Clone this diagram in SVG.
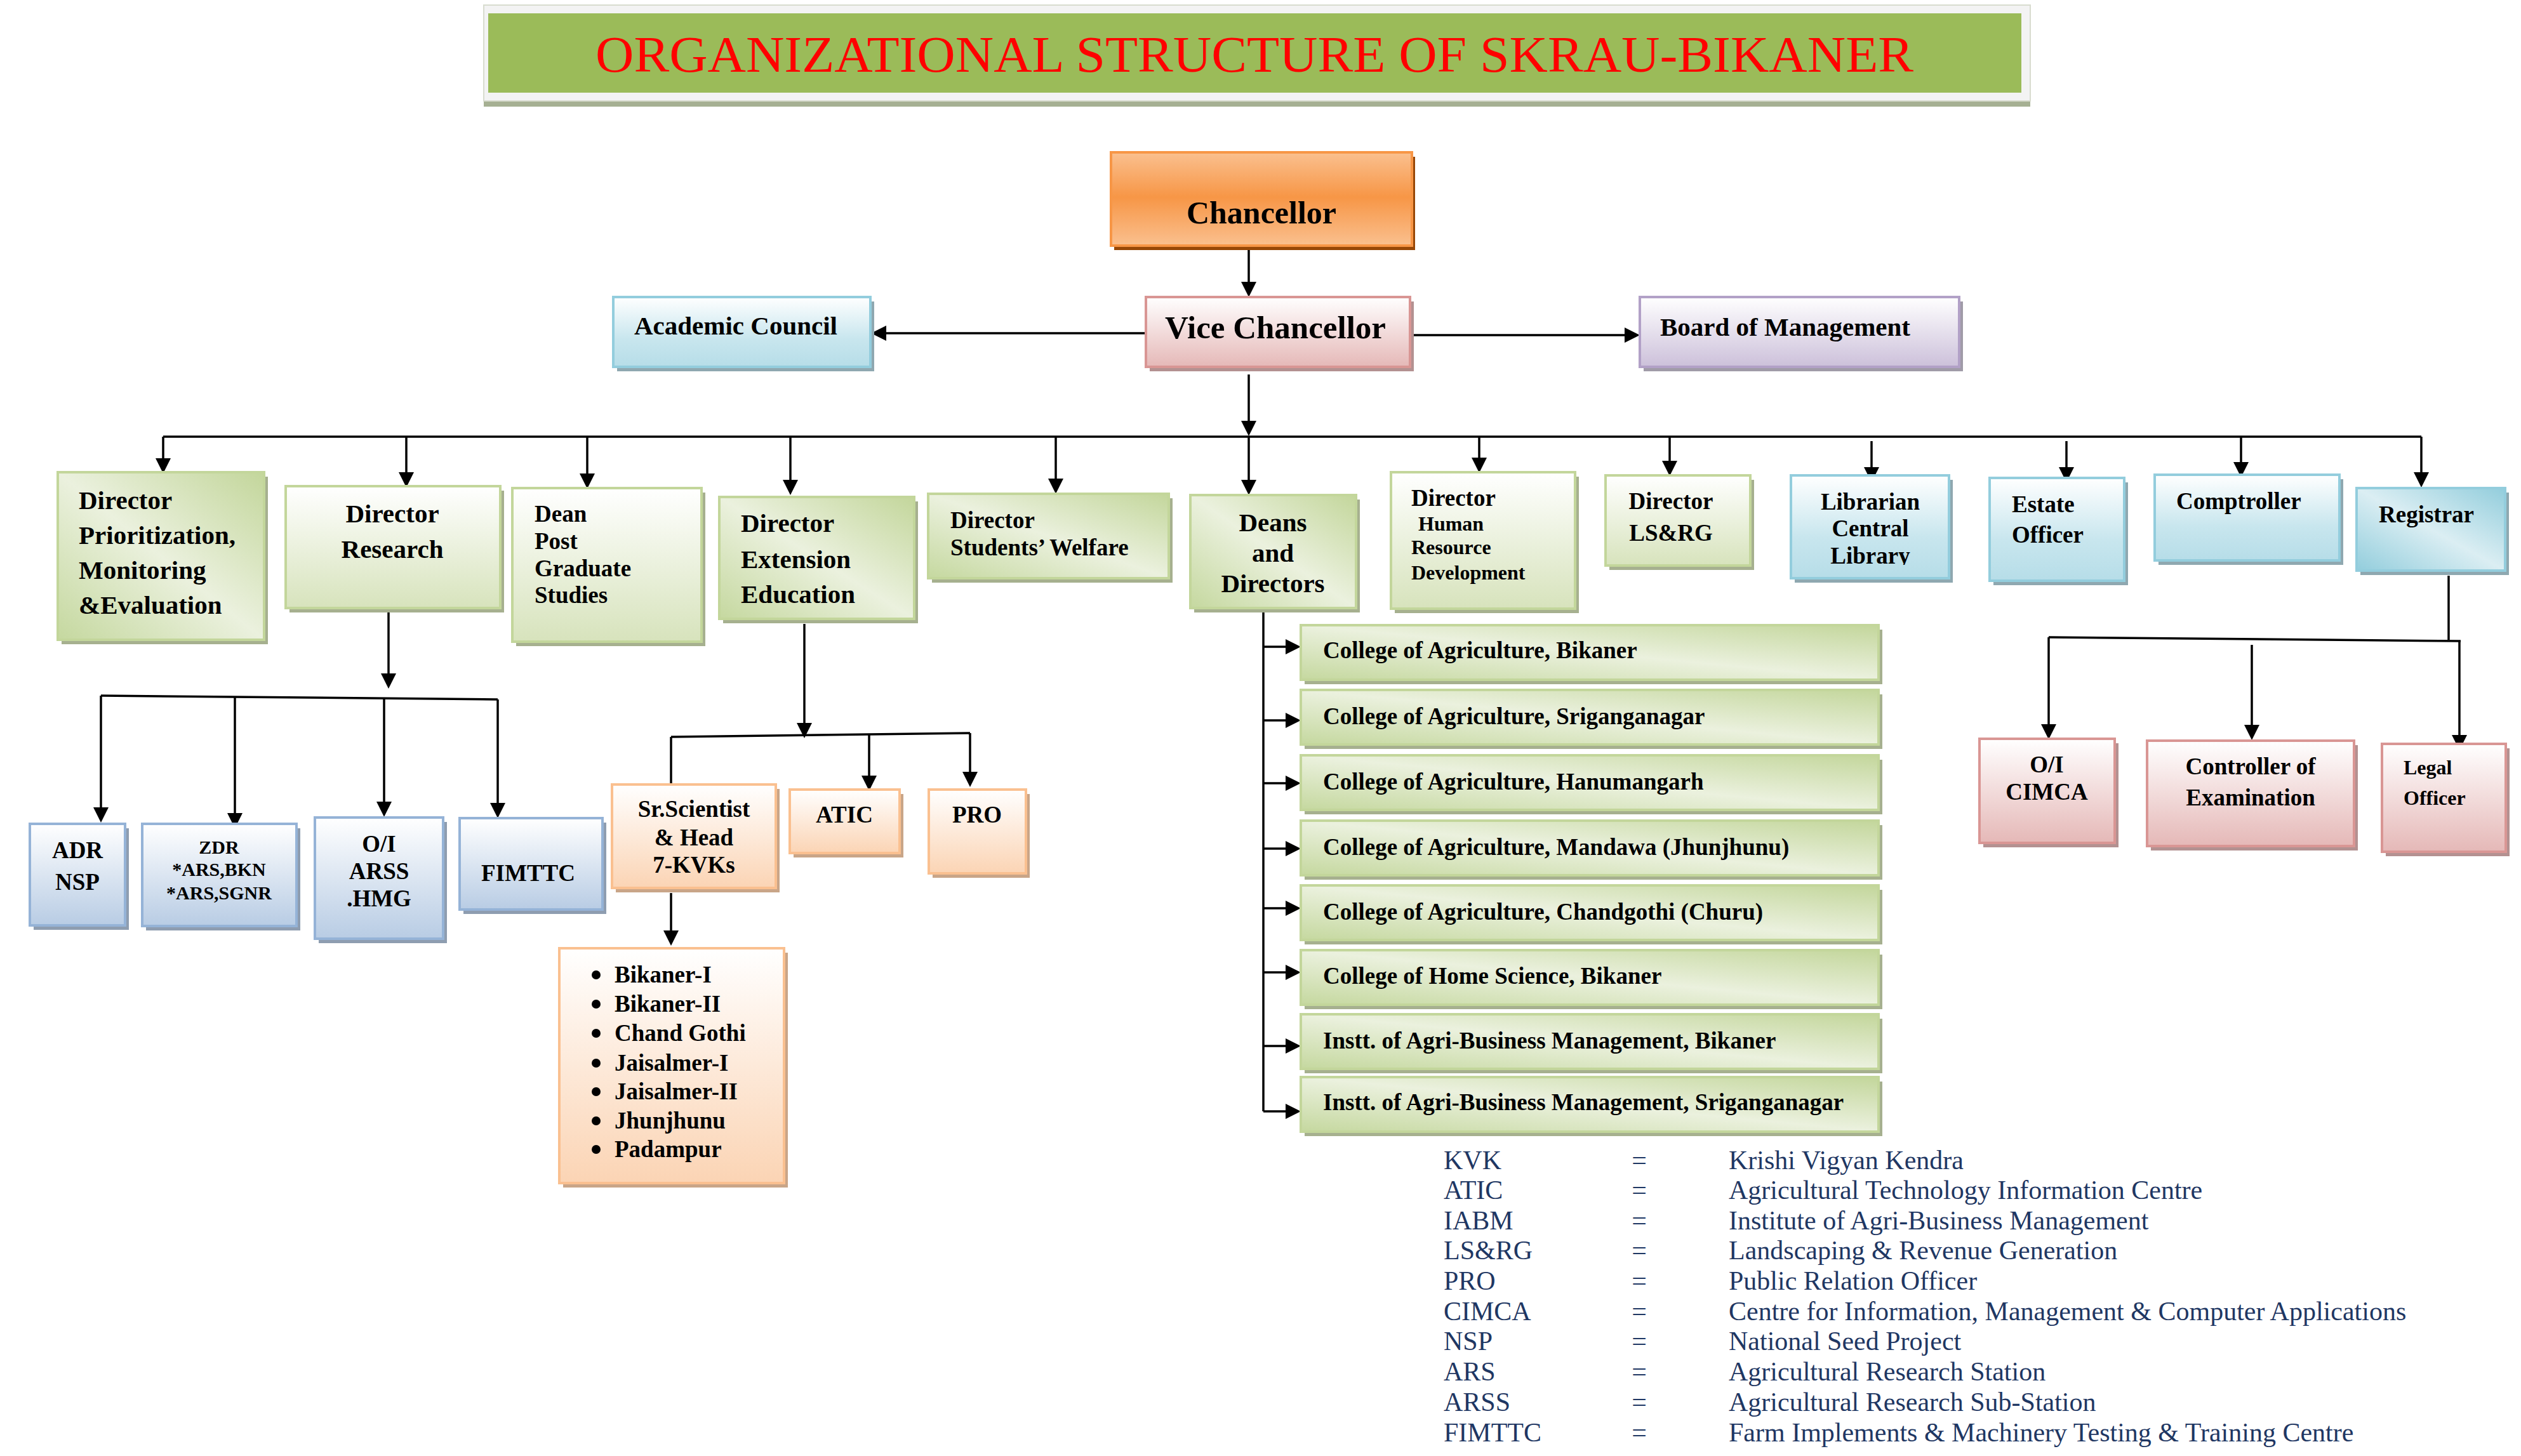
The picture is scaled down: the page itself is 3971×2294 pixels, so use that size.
<svg xmlns="http://www.w3.org/2000/svg" width="3971" height="2294" viewBox="0 0 3971 2294">
<defs>
<style>
.t{font-family:"Liberation Serif","Times New Roman",serif;font-weight:bold;fill:#000}
.f30{font-size:30px}.f32{font-size:32px}.f37{font-size:37px}.f40{font-size:40px}.f41{font-size:41px}
.c{text-anchor:middle}
.ln{stroke:#000;stroke-width:3.5;fill:none}
.la{stroke:#000;stroke-width:3.5;fill:none;marker-end:url(#ah)}
.lg{font-family:"Liberation Serif","Times New Roman",serif;font-size:42px;fill:#1f3763}
.bg{stroke:#c3d69b;stroke-width:4}
.bb{stroke:#93cddd;stroke-width:4}
.bs{stroke:#95b3d7;stroke-width:4}
.bo{stroke:#fac090;stroke-width:4}
.bp{stroke:#d99694;stroke-width:4}
.sg{fill:#a6b08f}.sb{fill:#8fa8b0}.ss{fill:#8e9db0}.so{fill:#c9a588}.sp{fill:#b39191}
</style>
<marker id="ah" markerUnits="userSpaceOnUse" markerWidth="24" markerHeight="24" viewBox="0 0 24 24" refX="20" refY="12" orient="auto">
<path d="M0,0 L24,12 L0,24 z" fill="#000"/>
</marker>
<linearGradient id="gChan" x1="0" y1="0" x2="0" y2="1"><stop offset="0" stop-color="#fac08f"/><stop offset="0.48" stop-color="#f79646"/><stop offset="1" stop-color="#fac08f"/></linearGradient>
<linearGradient id="gPink" x1="0" y1="0" x2="0" y2="1"><stop offset="0" stop-color="#ffffff"/><stop offset="1" stop-color="#e5b8b7"/></linearGradient>
<linearGradient id="gBlue" x1="0" y1="0" x2="0" y2="1"><stop offset="0" stop-color="#ffffff"/><stop offset="0.6" stop-color="#c8e6ee"/><stop offset="1" stop-color="#b6dde8"/></linearGradient>
<linearGradient id="gPurple" x1="0" y1="0" x2="0" y2="1"><stop offset="0" stop-color="#ffffff"/><stop offset="1" stop-color="#ccc0da"/></linearGradient>
<linearGradient id="gGreenV" x1="0" y1="0" x2="0" y2="1"><stop offset="0" stop-color="#ffffff"/><stop offset="1" stop-color="#d7e3bc"/></linearGradient>
<linearGradient id="gSteel" x1="0" y1="0" x2="0" y2="1"><stop offset="0" stop-color="#ffffff"/><stop offset="1" stop-color="#b8cce4"/></linearGradient>
<linearGradient id="gOrange" x1="0" y1="0" x2="0" y2="1"><stop offset="0" stop-color="#ffffff"/><stop offset="1" stop-color="#fbd4b4"/></linearGradient>
<linearGradient id="gGreenD" x1="1" y1="0" x2="0" y2="1"><stop offset="0" stop-color="#c3d69b"/><stop offset="0.5" stop-color="#ebf1de"/><stop offset="1" stop-color="#c5d89f"/></linearGradient>
<linearGradient id="gBlueD" x1="1" y1="0" x2="0" y2="1"><stop offset="0" stop-color="#92cddc"/><stop offset="0.5" stop-color="#dbeef3"/><stop offset="1" stop-color="#92cddc"/></linearGradient>
<clipPath id="clipLib"><rect x="2815" y="740" width="260" height="150"/></clipPath>
</defs>
<rect x="0" y="0" width="3971" height="2294" fill="#ffffff"/>

<g id="title">
<rect x="762" y="159" width="2436" height="9" fill="#a6b093"/>
<rect x="762" y="8" width="2436" height="151" fill="#f3f3f3" stroke="#d8dccf" stroke-width="2"/>
<rect x="769" y="21" width="2415" height="125" fill="#9bbb59"/>
<text x="1976" y="113" font-family="Liberation Serif, Times New Roman, serif" font-size="81" fill="#ff0000" text-anchor="middle" textLength="2076" lengthAdjust="spacingAndGlyphs">ORGANIZATIONAL STRUCTURE OF SKRAU-BIKANER</text>
</g>

<g id="connectors">
<line class="la" x1="1967" y1="394" x2="1967" y2="464"/>
<line class="la" x1="1805" y1="525" x2="1376" y2="525"/>
<line class="la" x1="2223" y1="528" x2="2579" y2="528"/>
<line class="la" x1="1967" y1="590" x2="1967" y2="683"/>
<line class="ln" x1="257" y1="688" x2="3814" y2="688" stroke-width="4"/>
<line class="la" x1="257" y1="688" x2="257" y2="742"/>
<line class="la" x1="640" y1="688" x2="640" y2="764"/>
<line class="la" x1="925" y1="688" x2="925" y2="766"/>
<line class="la" x1="1245" y1="688" x2="1245" y2="776"/>
<line class="la" x1="1663" y1="688" x2="1663" y2="774"/>
<line class="la" x1="1967" y1="688" x2="1967" y2="776"/>
<line class="la" x1="2330" y1="688" x2="2330" y2="741"/>
<line class="la" x1="2630" y1="688" x2="2630" y2="746"/>
<line class="la" x1="2948" y1="695" x2="2948" y2="756"/>
<line class="la" x1="3255" y1="695" x2="3255" y2="756"/>
<line class="la" x1="3530" y1="688" x2="3530" y2="748"/>
<line class="la" x1="3814" y1="688" x2="3814" y2="764"/>

<line class="la" x1="612" y1="964" x2="612" y2="1081"/>
<line class="ln" x1="159" y1="1096" x2="784" y2="1102"/>
<line class="la" x1="159" y1="1096" x2="159" y2="1292"/>
<line class="la" x1="370" y1="1098" x2="370" y2="1301"/>
<line class="la" x1="605" y1="1100" x2="605" y2="1283"/>
<line class="la" x1="784" y1="1102" x2="784" y2="1285"/>

<line class="la" x1="1267" y1="983" x2="1267" y2="1159"/>
<line class="ln" x1="1057" y1="1161" x2="1528" y2="1155"/>
<line class="ln" x1="1057" y1="1161" x2="1057" y2="1236"/>
<line class="la" x1="1369" y1="1158" x2="1369" y2="1242"/>
<line class="la" x1="1528" y1="1155" x2="1528" y2="1236"/>
<line class="la" x1="1057" y1="1407" x2="1057" y2="1486"/>

<line class="ln" x1="1990" y1="965" x2="1990" y2="1751"/>
<line class="la" x1="1990" y1="1019" x2="2045" y2="1019"/>
<line class="la" x1="1990" y1="1135" x2="2045" y2="1135"/>
<line class="la" x1="1990" y1="1234" x2="2045" y2="1234"/>
<line class="la" x1="1990" y1="1337" x2="2045" y2="1337"/>
<line class="la" x1="1990" y1="1431" x2="2045" y2="1431"/>
<line class="la" x1="1990" y1="1532" x2="2045" y2="1532"/>
<line class="la" x1="1990" y1="1648" x2="2045" y2="1648"/>
<line class="la" x1="1990" y1="1751" x2="2045" y2="1751"/>

<line class="ln" x1="3857" y1="907" x2="3857" y2="1008"/>
<line class="ln" x1="3227" y1="1004" x2="3876" y2="1010"/>
<line class="la" x1="3227" y1="1004" x2="3227" y2="1161"/>
<line class="la" x1="3547" y1="1016" x2="3547" y2="1162"/>
<line class="la" x1="3874" y1="1010" x2="3874" y2="1178"/>
</g>

<g id="chancellor">
<rect x="1755" y="247" width="474" height="147" fill="#984807"/>
<rect x="1750" y="240" width="474" height="147" fill="url(#gChan)" stroke="#f79646" stroke-width="4"/>
<text class="t c" x="1987" y="352" font-size="50">Chancellor</text>
</g>
<g id="vice-chancellor">
<rect x="1811" y="475" width="416" height="110" class="sp"/>
<rect x="1805" y="468" width="416" height="110" fill="url(#gPink)" class="bp"/>
<text class="t c" x="2009" y="533" font-size="51">Vice Chancellor</text>
</g>
<g id="academic-council">
<rect x="972" y="475" width="405" height="110" class="sb"/>
<rect x="966" y="468" width="405" height="110" fill="url(#gBlue)" class="bb"/>
<text class="t f41" x="999" y="527">Academic Council</text>
</g>
<g id="board-of-management">
<rect x="2589" y="475" width="503" height="110" fill="#a09ba8"/>
<rect x="2583" y="468" width="503" height="110" fill="url(#gPurple)" stroke="#b2a1c7" stroke-width="4"/>
<text class="t f41" x="2615" y="529">Board of Management</text>
</g>

<g id="dir-pme">
<rect x="97" y="751" width="325" height="264" class="sg"/>
<rect x="91" y="744" width="325" height="264" fill="url(#gGreenD)" class="bg"/>
<text class="t f41" x="124" y="802">Director</text>
<text class="t f41" x="124" y="857">Prioritization,</text>
<text class="t f41" x="124" y="912">Monitoring</text>
<text class="t f41" x="124" y="967">&amp;Evaluation</text>
</g>
<g id="dir-research">
<rect x="456" y="773" width="338" height="192" class="sg"/>
<rect x="450" y="766" width="338" height="192" fill="url(#gGreenV)" class="bg"/>
<text class="t f41 c" x="618" y="823">Director</text>
<text class="t f41 c" x="618" y="879">Research</text>
</g>
<g id="dean-pgs">
<rect x="813" y="776" width="298" height="242" class="sg"/>
<rect x="807" y="769" width="298" height="242" fill="url(#gGreenV)" class="bg"/>
<text class="t f37" x="842" y="822">Dean</text>
<text class="t f37" x="842" y="865">Post</text>
<text class="t f37" x="842" y="908">Graduate</text>
<text class="t f37" x="842" y="950">Studies</text>
</g>
<g id="dir-extension">
<rect x="1139" y="790" width="307" height="192" class="sg"/>
<rect x="1133" y="783" width="307" height="192" fill="url(#gGreenD)" class="bg"/>
<text class="t f41" x="1167" y="838">Director</text>
<text class="t f41" x="1167" y="895">Extension</text>
<text class="t f41" x="1167" y="950">Education</text>
</g>
<g id="dir-students-welfare">
<rect x="1468" y="785" width="379" height="133" class="sg"/>
<rect x="1462" y="778" width="379" height="133" fill="url(#gGreenD)" class="bg"/>
<text class="t f37" x="1497" y="832">Director</text>
<text class="t f37" x="1497" y="875">Students’ Welfare</text>
</g>
<g id="deans-directors">
<rect x="1881" y="787" width="261" height="178" class="sg"/>
<rect x="1875" y="780" width="261" height="178" fill="url(#gGreenD)" class="bg"/>
<text class="t f41 c" x="2005" y="837">Deans</text>
<text class="t f41 c" x="2005" y="885">and</text>
<text class="t f41 c" x="2005" y="933">Directors</text>
</g>
<g id="dir-hrd">
<rect x="2197" y="751" width="290" height="215" class="sg"/>
<rect x="2191" y="744" width="290" height="215" fill="url(#gGreenV)" class="bg"/>
<text class="t f37" x="2223" y="797">Director</text>
<text class="t f32" x="2234" y="836">Human</text>
<text class="t f32" x="2223" y="873">Resource</text>
<text class="t f32" x="2223" y="913">Development</text>
</g>
<g id="dir-lsrg">
<rect x="2535" y="756" width="228" height="142" class="sg"/>
<rect x="2529" y="749" width="228" height="142" fill="url(#gGreenV)" class="bg"/>
<text class="t f37 c" x="2632" y="802">Director</text>
<text class="t f37 c" x="2632" y="852">LS&amp;RG</text>
</g>
<g id="librarian">
<rect x="2827" y="756" width="249" height="162" class="sb"/>
<rect x="2821" y="749" width="249" height="162" fill="url(#gBlue)" class="bb"/>
<text class="t f37 c" x="2946" y="803">Librarian</text>
<text class="t f37 c" x="2946" y="845">Central</text>
<text class="t f37 c" x="2946" y="888" clip-path="url(#clipLib)">Library</text>
</g>
<g id="estate-officer">
<rect x="3140" y="760" width="212" height="162" class="sb"/>
<rect x="3134" y="753" width="212" height="162" fill="url(#gBlue)" class="bb"/>
<text class="t f37" x="3169" y="807">Estate</text>
<text class="t f37" x="3169" y="855">Officer</text>
</g>
<g id="comptroller">
<rect x="3400" y="755" width="291" height="135" class="sb"/>
<rect x="3394" y="748" width="291" height="135" fill="url(#gBlue)" class="bb"/>
<text class="t f37" x="3428" y="802">Comptroller</text>
</g>
<g id="registrar">
<rect x="3718" y="776" width="234" height="130" class="sb"/>
<rect x="3712" y="769" width="234" height="130" fill="url(#gBlueD)" class="bb"/>
<text class="t f37" x="3747" y="823">Registrar</text>
</g>

<g id="adr-nsp">
<rect x="53" y="1305" width="150" height="160" class="ss"/>
<rect x="47" y="1298" width="150" height="160" fill="url(#gSteel)" class="bs"/>
<text class="t f37 c" x="122" y="1352">ADR</text>
<text class="t f37 c" x="122" y="1402">NSP</text>
</g>
<g id="zdr">
<rect x="230" y="1305" width="243" height="161" class="ss"/>
<rect x="224" y="1298" width="243" height="161" fill="url(#gSteel)" class="bs"/>
<text class="t f30 c" x="345" y="1345">ZDR</text>
<text class="t f30 c" x="345" y="1380">*ARS,BKN</text>
<text class="t f30 c" x="345" y="1417">*ARS,SGNR</text>
</g>
<g id="oi-arss">
<rect x="502" y="1295" width="202" height="191" class="ss"/>
<rect x="496" y="1288" width="202" height="191" fill="url(#gSteel)" class="bs"/>
<text class="t f37 c" x="597" y="1342">O/I</text>
<text class="t f37 c" x="597" y="1385">ARSS</text>
<text class="t f37 c" x="597" y="1428">.HMG</text>
</g>
<g id="fimttc">
<rect x="730" y="1296" width="225" height="144" class="ss"/>
<rect x="724" y="1289" width="225" height="144" fill="url(#gSteel)" class="bs"/>
<text class="t f37 c" x="832" y="1388">FIMTTC</text>
</g>

<g id="sr-scientist">
<rect x="970" y="1243" width="258" height="163" class="so"/>
<rect x="964" y="1236" width="258" height="163" fill="url(#gOrange)" class="bo"/>
<text class="t f37 c" x="1093" y="1287">Sr.Scientist</text>
<text class="t f37 c" x="1093" y="1332">&amp; Head</text>
<text class="t f37 c" x="1093" y="1375">7-KVKs</text>
</g>
<g id="atic">
<rect x="1250" y="1251" width="173" height="100" class="so"/>
<rect x="1244" y="1244" width="173" height="100" fill="url(#gOrange)" class="bo"/>
<text class="t f37 c" x="1330" y="1296">ATIC</text>
</g>
<g id="pro">
<rect x="1469" y="1251" width="153" height="132" class="so"/>
<rect x="1463" y="1244" width="153" height="132" fill="url(#gOrange)" class="bo"/>
<text class="t f37 c" x="1539" y="1296">PRO</text>
</g>
<g id="kvk-list">
<rect x="887" y="1501" width="354" height="370" class="so"/>
<rect x="881" y="1494" width="354" height="370" fill="url(#gOrange)" class="bo"/>
<g fill="#000">
<circle cx="939" cy="1536" r="7"/><circle cx="939" cy="1582" r="7"/><circle cx="939" cy="1628" r="7"/><circle cx="939" cy="1675" r="7"/><circle cx="939" cy="1720" r="7"/><circle cx="939" cy="1766" r="7"/><circle cx="939" cy="1811" r="7"/>
</g>
<text class="t f37" x="968" y="1548">Bikaner-I</text>
<text class="t f37" x="968" y="1594">Bikaner-II</text>
<text class="t f37" x="968" y="1640">Chand Gothi</text>
<text class="t f37" x="968" y="1687">Jaisalmer-I</text>
<text class="t f37" x="968" y="1732">Jaisalmer-II</text>
<text class="t f37" x="968" y="1778">Jhunjhunu</text>
<text class="t f37" x="968" y="1823">Padampur</text>
</g>

<g id="college-agri-bikaner">
<rect x="2055" y="992" width="910" height="86" class="sg"/>
<rect x="2049" y="985" width="910" height="86" fill="url(#gGreenD)" class="bg"/>
<text class="t f37" x="2084" y="1037">College of Agriculture, Bikaner</text>
</g>
<g id="college-agri-sriganganagar">
<rect x="2055" y="1094" width="910" height="86" class="sg"/>
<rect x="2049" y="1087" width="910" height="86" fill="url(#gGreenD)" class="bg"/>
<text class="t f37" x="2084" y="1141">College of Agriculture, Sriganganagar</text>
</g>
<g id="college-agri-hanumangarh">
<rect x="2055" y="1197" width="910" height="86" class="sg"/>
<rect x="2049" y="1190" width="910" height="86" fill="url(#gGreenD)" class="bg"/>
<text class="t f37" x="2084" y="1244">College of Agriculture, Hanumangarh</text>
</g>
<g id="college-agri-mandawa">
<rect x="2055" y="1300" width="910" height="86" class="sg"/>
<rect x="2049" y="1293" width="910" height="86" fill="url(#gGreenD)" class="bg"/>
<text class="t f37" x="2084" y="1347">College of Agriculture, Mandawa (Jhunjhunu)</text>
</g>
<g id="college-agri-chandgothi">
<rect x="2055" y="1402" width="910" height="86" class="sg"/>
<rect x="2049" y="1395" width="910" height="86" fill="url(#gGreenD)" class="bg"/>
<text class="t f37" x="2084" y="1449">College of Agriculture, Chandgothi (Churu)</text>
</g>
<g id="college-home-science">
<rect x="2055" y="1504" width="910" height="86" class="sg"/>
<rect x="2049" y="1497" width="910" height="86" fill="url(#gGreenD)" class="bg"/>
<text class="t f37" x="2084" y="1550">College of Home Science, Bikaner</text>
</g>
<g id="iabm-bikaner">
<rect x="2055" y="1605" width="910" height="86" class="sg"/>
<rect x="2049" y="1598" width="910" height="86" fill="url(#gGreenD)" class="bg"/>
<text class="t f37" x="2084" y="1652">Instt. of Agri-Business Management, Bikaner</text>
</g>
<g id="iabm-sriganganagar">
<rect x="2055" y="1704" width="910" height="86" class="sg"/>
<rect x="2049" y="1697" width="910" height="86" fill="url(#gGreenD)" class="bg"/>
<text class="t f37" x="2084" y="1749">Instt. of Agri-Business Management, Sriganganagar</text>
</g>

<g id="oi-cimca">
<rect x="3124" y="1171" width="213" height="164" class="sp"/>
<rect x="3118" y="1164" width="213" height="164" fill="url(#gPink)" class="bp"/>
<text class="t f37 c" x="3224" y="1217">O/I</text>
<text class="t f37 c" x="3224" y="1260">CIMCA</text>
</g>
<g id="controller-exam">
<rect x="3388" y="1174" width="326" height="166" class="sp"/>
<rect x="3382" y="1167" width="326" height="166" fill="url(#gPink)" class="bp"/>
<text class="t f37 c" x="3545" y="1220">Controller of</text>
<text class="t f37 c" x="3545" y="1269">Examination</text>
</g>
<g id="legal-officer">
<rect x="3758" y="1179" width="195" height="170" class="sp"/>
<rect x="3752" y="1172" width="195" height="170" fill="url(#gPink)" class="bp"/>
<text class="t f32" x="3786" y="1220">Legal</text>
<text class="t f32" x="3786" y="1268">Officer</text>
</g>

<g id="legend" class="lg">
<text x="2274" y="1842">KVK</text><text x="2582" y="1842" text-anchor="middle">=</text><text x="2723" y="1842">Krishi Vigyan Kendra</text>
<text x="2274" y="1889">ATIC</text><text x="2582" y="1889" text-anchor="middle">=</text><text x="2723" y="1889">Agricultural Technology Information Centre</text>
<text x="2274" y="1937">IABM</text><text x="2582" y="1937" text-anchor="middle">=</text><text x="2723" y="1937">Institute of Agri-Business Management</text>
<text x="2274" y="1984">LS&amp;RG</text><text x="2582" y="1984" text-anchor="middle">=</text><text x="2723" y="1984">Landscaping &amp; Revenue Generation</text>
<text x="2274" y="2032">PRO</text><text x="2582" y="2032" text-anchor="middle">=</text><text x="2723" y="2032">Public Relation Officer</text>
<text x="2274" y="2080">CIMCA</text><text x="2582" y="2080" text-anchor="middle">=</text><text x="2723" y="2080">Centre for Information, Management &amp; Computer Applications</text>
<text x="2274" y="2127">NSP</text><text x="2582" y="2127" text-anchor="middle">=</text><text x="2723" y="2127">National Seed Project</text>
<text x="2274" y="2175">ARS</text><text x="2582" y="2175" text-anchor="middle">=</text><text x="2723" y="2175">Agricultural Research Station</text>
<text x="2274" y="2223">ARSS</text><text x="2582" y="2223" text-anchor="middle">=</text><text x="2723" y="2223">Agricultural Research Sub-Station</text>
<text x="2274" y="2271">FIMTTC</text><text x="2582" y="2271" text-anchor="middle">=</text><text x="2723" y="2271">Farm Implements &amp; Machinery Testing &amp; Training Centre</text>
</g>
</svg>
